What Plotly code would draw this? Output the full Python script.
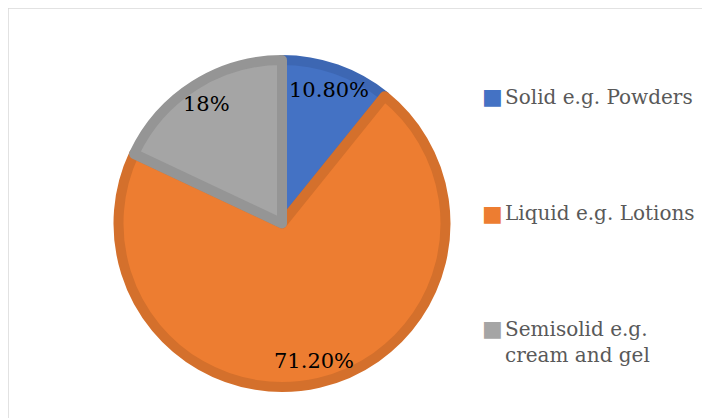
import math
import plotly.graph_objects as go

categories = ["Solid e.g. Powders", "Liquid e.g. Lotions", "Semisolid e.g.<br>cream and gel"]
values = [10.8, 71.2, 18.0]
value_labels = ["10.80%", "71.20%", "18%"]
fill_colors = ["#4472C4", "#ED7D31", "#A5A5A5"]
edge_colors = ["#3D67B3", "#D4702C", "#959595"]

OFF = 8                    # page body margin
W, H = 710 - OFF, 418 - OFF
cx, cy = 282.0 - OFF, 223.5 - OFF   # pie centre in px (figure coords, from top-left)
R = 163.5                  # pie radius in px
LINE_W = 10

fig = go.Figure()
fig.add_trace(go.Pie(
    labels=categories,
    values=values,
    sort=False,
    direction="clockwise",
    rotation=0,
    marker=dict(colors=fill_colors, line=dict(color=edge_colors, width=LINE_W)),
    textinfo="none",
    hoverinfo="label+percent",
    showlegend=False,
    domain=dict(x=[(cx - R) / W, (cx + R) / W],
                y=[(H - cy - R) / H, (H - cy + R) / H]),
))

annotations = []
# percentage labels placed along each slice bisector
total = sum(values)
cum = 0.0
label_r = 0.84 * (R + LINE_W / 2)
for v, t in zip(values, value_labels):
    mid = (cum + v / 2) / total * 2 * math.pi
    cum += v
    px = cx + label_r * math.sin(mid)
    py = cy - label_r * math.cos(mid)
    annotations.append(dict(
        x=px / W, y=1 - py / H, xref="paper", yref="paper",
        text=t, showarrow=False, xanchor="center", yanchor="middle",
        font=dict(family="DejaVu Serif", size=21, color="#000000"),
    ))

# legend (entries on the right)
legend_y = [97 - OFF, 213 - OFF, 342 - OFF]
square_y = [97 - OFF, 213 - OFF, 328 - OFF]
for name, col, ly, sy in zip(categories, fill_colors, legend_y, square_y):
    annotations.append(dict(
        x=(493 - OFF) / W, y=1 - sy / H, xref="paper", yref="paper",
        text="■", showarrow=False, xanchor="center", yanchor="middle",
        font=dict(family="DejaVu Sans", size=22, color=col),
    ))
    annotations.append(dict(
        x=(503 - OFF) / W, y=1 - ly / H, xref="paper", yref="paper",
        text=name, showarrow=False, xanchor="left", yanchor="middle", align="left",
        font=dict(family="DejaVu Serif", size=20, color="#595959"),
    ))

fig.update_layout(
    width=W, height=H,
    margin=dict(l=0, r=0, t=0, b=0),
    paper_bgcolor="white",
    plot_bgcolor="white",
    annotations=annotations,
    shapes=[dict(type="rect", xref="paper", yref="paper",
                 x0=0, x1=1.02, y0=-0.02, y1=1,
                 line=dict(color="#D9D9D9", width=1.5), fillcolor="rgba(0,0,0,0)")],
)

fig.write_html("out.html")
